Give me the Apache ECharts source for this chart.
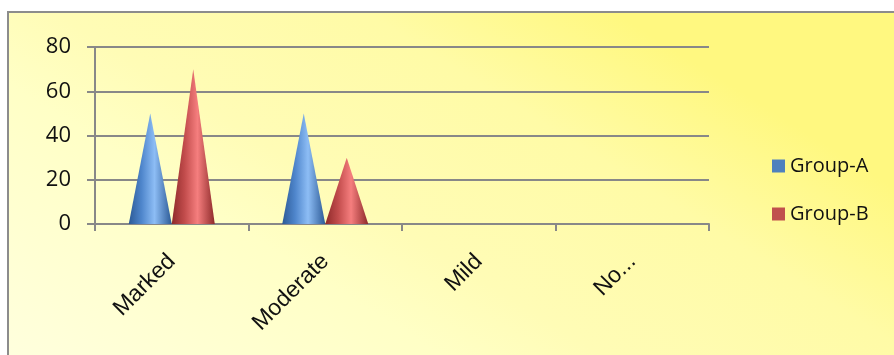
<!DOCTYPE html>
<html>
<head>
<meta charset="utf-8">
<script src="https://cdn.jsdelivr.net/npm/echarts@6/dist/echarts.min.js"></script>
<style>
  html, body { margin: 0; padding: 0; background: #ffffff; }
  #chart { width: 894px; height: 355px; }
</style>
</head>
<body>
<div id="chart"></div>
<script>
// Severity categories and the two group series
const categories = ['Marked', 'Moderate', 'Mild', 'No...'];
const groupA = [50, 50, 0, 0];
const groupB = [70, 30, 0, 0];
const seriesNames = ['Group-A', 'Group-B'];
const yTicks = [0, 20, 40, 60, 80];

const conePath = 'path://M0,100 L50,0 L100,100 Z';

function coneFill(dark, mid, light) {
  return {
    type: 'linear', x: 0, y: 0, x2: 1, y2: 0,
    colorStops: [
      { offset: 0, color: dark },
      { offset: 0.3, color: mid },
      { offset: 0.6, color: light },
      { offset: 1, color: dark }
    ]
  };
}

const chart = echarts.init(document.getElementById('chart'), null, { renderer: 'canvas' });

function coneSeries(name, data, fill, offset) {
  return {
    name: name,
    type: 'pictorialBar',
    symbol: conePath,
    symbolSize: [43, '100%'],
    symbolOffset: [offset, 0],
    symbolPosition: 'start',
    data: data.map(v => ({ value: v, symbolSize: v > 0 ? [43, '100%'] : [0, 0] })),
    itemStyle: { color: fill },
    z: 5
  };
}

chart.setOption({
  animation: false,
  graphic: [{
    type: 'rect',
    shape: { x: 8, y: 12, width: 900, height: 400 },
    style: {
      // pale cream at the lower left, warming to bright yellow at the upper right
      fill: {
        type: 'linear', global: true, x: 8, y: 412, x2: 358, y2: -148,
        colorStops: [
          { offset: 0, color: '#ffffe2' },
          { offset: 0.42, color: '#ffffc6' },
          { offset: 0.55, color: '#fffcb6' },
          { offset: 0.8, color: '#fffba6' },
          { offset: 1, color: '#fff880' }
        ]
      },
      stroke: '#8c8c8c',
      lineWidth: 2
    },
    z: -10,
    silent: true
  }],
  grid: { left: 95, right: 185, top: 47, bottom: 131, containLabel: false },
  legend: {
    orient: 'vertical',
    left: 767,
    top: 151,
    itemWidth: 13,
    itemHeight: 13,
    itemGap: 28,
    icon: 'rect',
    textStyle: { fontFamily: 'Open Sans', fontSize: 20, color: '#111' },
    data: [
      { name: seriesNames[0], itemStyle: { color: '#4f81bd' } },
      { name: seriesNames[1], itemStyle: { color: '#c0504d' } }
    ]
  },
  xAxis: {
    type: 'category',
    data: categories,
    boundaryGap: true,
    axisLine: { lineStyle: { color: '#888', width: 2 } },
    axisTick: { show: true, length: 7, lineStyle: { color: '#888', width: 2 } },
    axisLabel: {
      rotate: 45,
      margin: 34,
      fontFamily: 'Liberation Sans',
      fontSize: 23,
      color: '#111'
    }
  },
  yAxis: {
    type: 'value',
    min: yTicks[0],
    max: yTicks[yTicks.length - 1],
    interval: 20,
    axisLine: { show: true, lineStyle: { color: '#888', width: 2 } },
    axisTick: { show: true, length: 8, lineStyle: { color: '#888', width: 2 } },
    splitLine: { lineStyle: { color: '#888', width: 2 } },
    axisLabel: {
      margin: 24,
      fontFamily: 'Open Sans',
      fontSize: 22,
      color: '#111'
    }
  },
  series: [
    coneSeries(seriesNames[0], groupA, coneFill('#2c5a96', '#4f86cc', '#8dbdf5'), -21.5),
    coneSeries(seriesNames[1], groupB, coneFill('#8e2a2a', '#c24c4c', '#f57e7e'), 21.5)
  ]
});
</script>
</body>
</html>
